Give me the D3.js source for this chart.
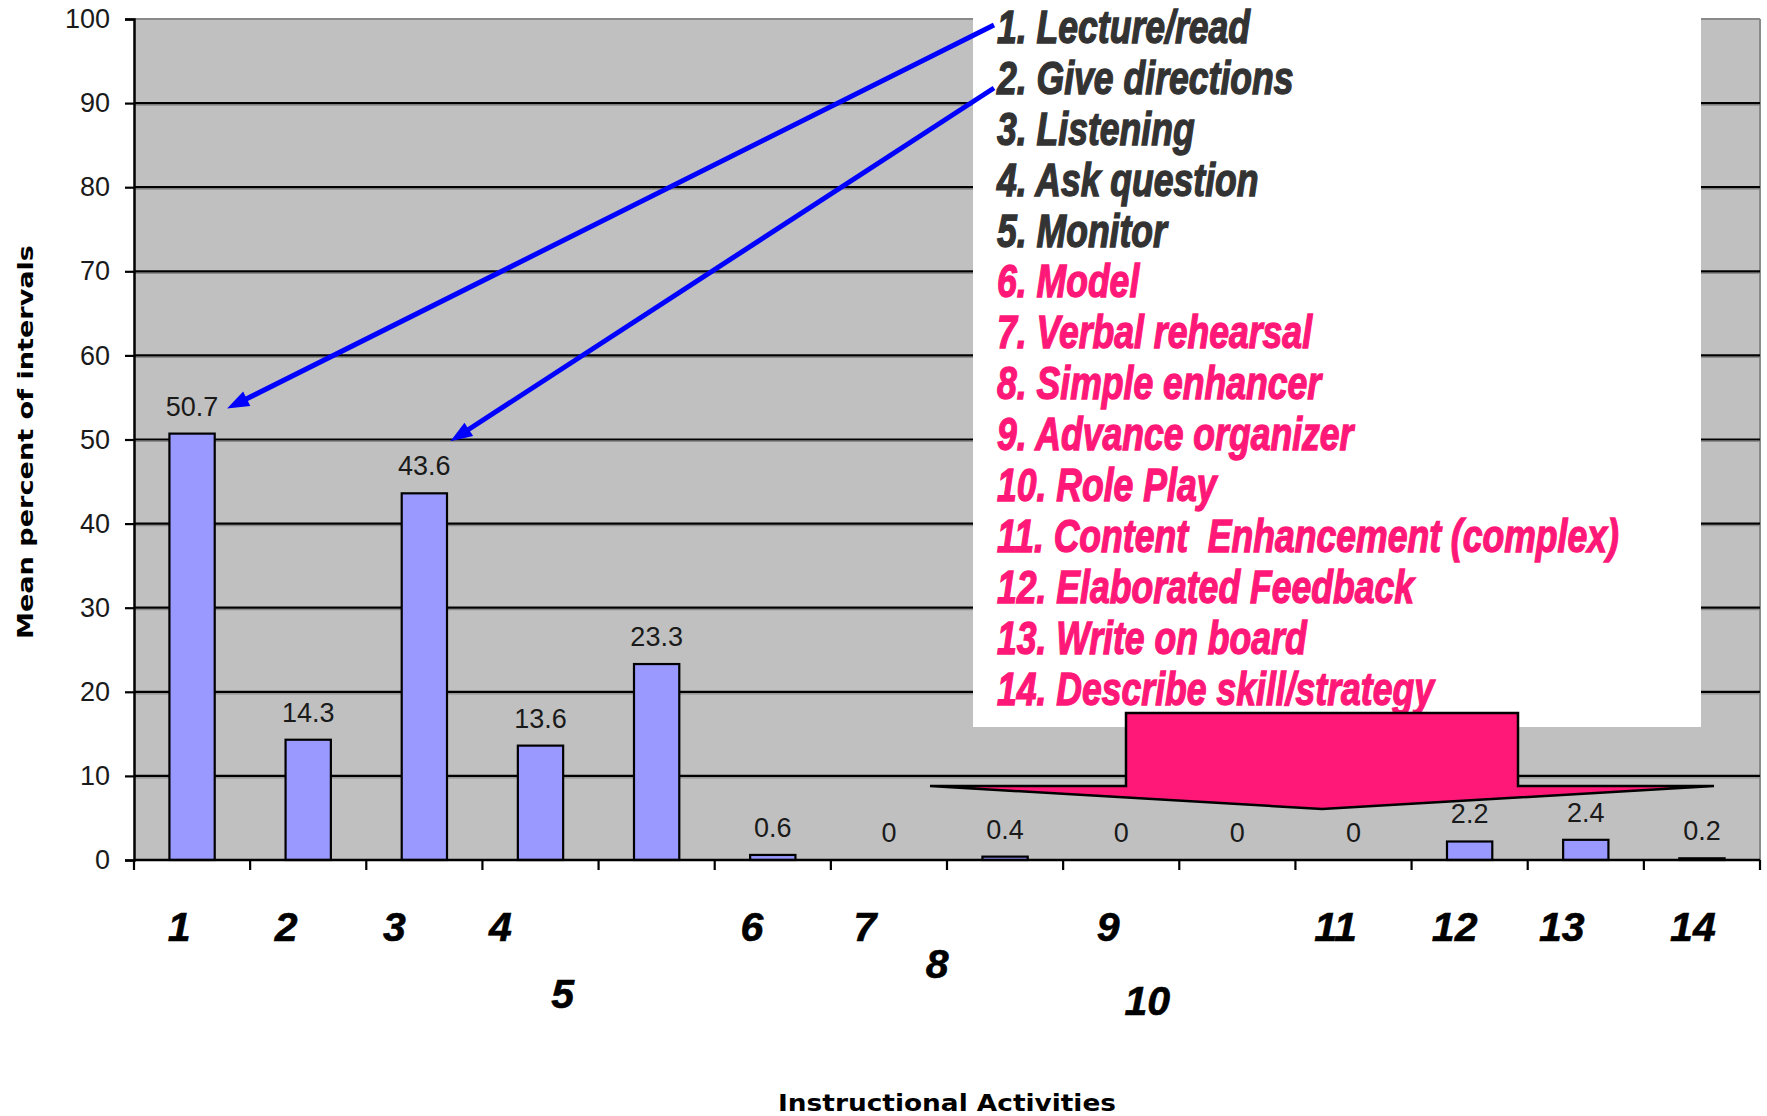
<!DOCTYPE html>
<html>
<head>
<meta charset="utf-8">
<script src="https://cdn.jsdelivr.net/npm/d3@7"></script>
<style>
  html, body { margin: 0; padding: 0; background: #ffffff; }
  svg { display: block; }
</style>
</head>
<body>
<svg id="chart" width="1767" height="1116"></svg>
<script>
// ---- data ----
const categories = ["1", "2", "3", "4", "5", "6", "7", "8", "9", "10", "11", "12", "13", "14"];
const meanPercent = [50.7, 14.3, 43.6, 13.6, 23.3, 0.6, 0, 0.4, 0, 0, 0, 2.2, 2.4, 0.2];
const yTickValues = [0, 10, 20, 30, 40, 50, 60, 70, 80, 90, 100];
const activityNames = [
  "1. Lecture/read",
  "2. Give directions",
  "3. Listening",
  "4. Ask question",
  "5. Monitor",
  "6. Model",
  "7. Verbal rehearsal",
  "8. Simple enhancer",
  "9. Advance organizer",
  "10. Role Play",
  "11. Content  Enhancement (complex)",
  "12. Elaborated Feedback",
  "13. Write on board",
  "14. Describe skill/strategy"
];
const firstHighlighted = 6;   // activities 6–14 are set in pink
const yTitle = "Mean percent of intervals";
const xTitle = "Instructional Activities";

// ---- layout ----
const W = 1767, H = 1116;
const plot = { left: 134, right: 1760, top: 19, bottom: 860 };
// hand-placed category numbers: [dx, dy] from the band centre / default baseline
const catLabelNudge = [
  [-13, 0], [-22, 0], [-30, 0], [-40, 0], [-94, 67], [-21, 0], [-24, 0],
  [-68, 37], [-13, 0], [-90, 74], [-18, 0], [-15, 0], [-24, 0], [-9, 0]
];
const catLabelBaseline = 941;

const colors = {
  plotBg: "#c0c0c0",
  bar: "#9999ff",
  text: "#1a1a1a",
  legendDark: "#333333",
  pink: "#ff1877",
  blue: "#0000ff"
};

const svg = d3.select("#chart");

const x = d3.scaleBand()
  .domain(categories)
  .range([plot.left, plot.right])
  .paddingInner(0.61)
  .paddingOuter(0.305);

const y = d3.scaleLinear()
  .domain([0, 100])
  .range([plot.bottom, plot.top]);

const cx = c => x(c) + x.bandwidth() / 2;

// ---- plot area ----
svg.append("rect")
  .attr("x", plot.left).attr("y", plot.top)
  .attr("width", plot.right - plot.left).attr("height", plot.bottom - plot.top)
  .attr("fill", colors.plotBg);

// right border of the plot frame
svg.append("line")
  .attr("x1", plot.right).attr("x2", plot.right)
  .attr("y1", plot.top).attr("y2", plot.bottom)
  .attr("stroke", "#8a8a8a").attr("stroke-width", 2);

// gridlines, with the faint shadow line under each
const gridValues = yTickValues.filter(v => v > 0);
svg.append("g")
  .selectAll("line")
  .data(gridValues.filter(v => v < 100))
  .join("line")
  .attr("x1", plot.left).attr("x2", plot.right)
  .attr("y1", d => y(d) + 2).attr("y2", d => y(d) + 2)
  .attr("stroke", "#8c8c8c")
  .attr("stroke-width", 1.2);
svg.append("g")
  .selectAll("line")
  .data(gridValues)
  .join("line")
  .attr("x1", plot.left).attr("x2", plot.right)
  .attr("y1", d => y(d)).attr("y2", d => y(d))
  .attr("stroke", d => d === 100 ? "#8a8a8a" : "#000")
  .attr("stroke-width", 2.2);

// ---- bars ----
const barData = categories.map((c, i) => ({ c, v: meanPercent[i] }));

svg.append("g")
  .selectAll("rect")
  .data(barData.filter(d => d.v > 0))
  .join("rect")
  .attr("x", d => x(d.c))
  .attr("y", d => y(d.v))
  .attr("width", x.bandwidth())
  .attr("height", d => y(0) - y(d.v))
  .attr("fill", colors.bar)
  .attr("stroke", "#000")
  .attr("stroke-width", 2.2);

// value labels
svg.append("g")
  .selectAll("text")
  .data(barData)
  .join("text")
  .attr("x", d => cx(d.c))
  .attr("y", d => y(d.v) - 18)
  .attr("text-anchor", "middle")
  .attr("font-family", "'Liberation Sans', Arial, sans-serif")
  .attr("font-size", 27)
  .attr("fill", colors.text)
  .text(d => d.v);

// ---- y axis ----
const yAxis = d3.axisLeft(y).tickValues(yTickValues).tickSize(9).tickPadding(15).tickFormat(d3.format("d"));
const gy = svg.append("g")
  .attr("transform", `translate(${plot.left},0)`)
  .call(yAxis);
gy.select(".domain").attr("stroke", "#000").attr("stroke-width", 2.5);
gy.selectAll(".tick line").attr("stroke", "#000").attr("stroke-width", 2.2);
gy.selectAll(".tick text")
  .attr("font-family", "'Liberation Sans', Arial, sans-serif")
  .attr("font-size", 27)
  .attr("fill", colors.text);

// ---- x axis: baseline with ticks at category boundaries ----
const gap = (x.step() - x.bandwidth()) / 2;
const boundaries = categories.map(c => x(c) - gap).concat([plot.right]);

svg.append("line")
  .attr("x1", plot.left).attr("x2", plot.right)
  .attr("y1", y(0)).attr("y2", y(0))
  .attr("stroke", "#000").attr("stroke-width", 2.5);

svg.append("g")
  .selectAll("line")
  .data(boundaries)
  .join("line")
  .attr("x1", d => d).attr("x2", d => d)
  .attr("y1", y(0)).attr("y2", y(0) + 10)
  .attr("stroke", "#000").attr("stroke-width", 2.2);

// category numbers
svg.append("g")
  .selectAll("text")
  .data(categories)
  .join("text")
  .attr("x", (c, i) => cx(c) + catLabelNudge[i][0])
  .attr("y", (c, i) => catLabelBaseline + catLabelNudge[i][1])
  .attr("text-anchor", "middle")
  .attr("font-family", "'Liberation Sans', Arial, sans-serif")
  .attr("font-weight", "bold")
  .attr("font-style", "italic")
  .attr("font-size", 41)
  .attr("fill", "#000")
  .attr("stroke", "#000")
  .attr("stroke-width", 0.6)
  .text(c => c);

// ---- axis titles ----
svg.append("text")
  .attr("transform", `translate(33,${(639 + 245) / 2}) rotate(-90)`)
  .attr("text-anchor", "middle")
  .attr("font-family", "'DejaVu Sans', Verdana, sans-serif")
  .attr("font-weight", "bold")
  .attr("font-size", 22)
  .attr("textLength", 394)
  .attr("lengthAdjust", "spacingAndGlyphs")
  .attr("fill", "#000")
  .text(yTitle);

svg.append("text")
  .attr("x", 947)
  .attr("y", 1111)
  .attr("text-anchor", "middle")
  .attr("font-family", "'DejaVu Sans', Verdana, sans-serif")
  .attr("font-weight", "bold")
  .attr("font-size", 23)
  .attr("textLength", 338)
  .attr("lengthAdjust", "spacingAndGlyphs")
  .attr("fill", "#000")
  .text(xTitle);

// ---- activity key ----
const key = { left: 973, right: 1701, top: 0, bottom: 727, textX: 997, firstBaseline: 43, lineStep: 50.9, longest: 622 };

svg.append("rect")
  .attr("x", key.left).attr("y", key.top)
  .attr("width", key.right - key.left).attr("height", key.bottom - key.top)
  .attr("fill", "#fff");

const keyText = svg.append("g");
keyText.selectAll("text")
  .data(activityNames)
  .join("text")
  .attr("x", 0)
  .attr("y", (d, i) => key.firstBaseline + i * key.lineStep)
  .attr("font-family", "'Liberation Sans Narrow', 'Liberation Sans', Arial, sans-serif")
  .attr("font-weight", "bold")
  .attr("font-style", "italic")
  .attr("font-size", 46)
  .attr("fill", (d, i) => (i + 1) >= firstHighlighted ? colors.pink : colors.legendDark)
  .attr("stroke", (d, i) => (i + 1) >= firstHighlighted ? colors.pink : colors.legendDark)
  .attr("stroke-width", 1.4)
  .style("white-space", "pre")
  .text(d => d);

// condense the key horizontally so the longest entry spans its measured width
let maxLen = 0;
keyText.selectAll("text").each(function () { maxLen = Math.max(maxLen, this.getComputedTextLength()); });
const squeeze = maxLen > 0 ? key.longest / maxLen : 1;
keyText.attr("transform", `translate(${key.textX},0) scale(${squeeze},1)`);

// ---- pink block arrow pointing down at the near-zero activities ----
const blockArrow = [
  [1126, 713], [1518, 713], [1518, 786], [1714, 786],
  [1322, 809], [930, 786], [1126, 786]
];
svg.append("polygon")
  .attr("points", blockArrow.map(p => p.join(",")).join(" "))
  .attr("fill", colors.pink)
  .attr("stroke", "#000")
  .attr("stroke-width", 2.5)
  .attr("stroke-linejoin", "miter");

// ---- blue pointer arrows from the key to the two largest values ----
function pointer(x1, y1, x2, y2) {
  const ang = Math.atan2(y2 - y1, x2 - x1);
  const len = 22, half = 8;
  const bx = x2 - len * Math.cos(ang), by = y2 - len * Math.sin(ang);
  svg.append("line")
    .attr("x1", x1).attr("y1", y1)
    .attr("x2", bx + 4 * Math.cos(ang)).attr("y2", by + 4 * Math.sin(ang))
    .attr("stroke", colors.blue).attr("stroke-width", 5).attr("stroke-linecap", "butt");
  const px = -Math.sin(ang), py = Math.cos(ang);
  svg.append("polygon")
    .attr("points", [
      [x2, y2],
      [bx + half * px, by + half * py],
      [bx - half * px, by - half * py]
    ].map(p => p.join(",")).join(" "))
    .attr("fill", colors.blue);
}
pointer(994, 25, cx("1") + 35, y(meanPercent[0]) - 25);
pointer(994, 88, cx("3") + 26, y(meanPercent[2]) - 52);
</script>
</body>
</html>
